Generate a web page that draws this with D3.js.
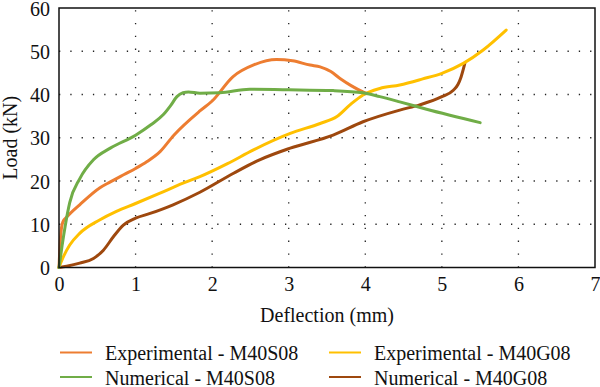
<!DOCTYPE html>
<html><head><meta charset="utf-8">
<script src="https://cdn.jsdelivr.net/npm/d3@7"></script>
<style>body{margin:0;background:#fff}svg{display:block}svg text{font-family:"Times New Roman",serif !important;font-size:20px !important}</style>
</head><body><svg id="c" width="600" height="387"></svg>
<script>
const xTicks=[0,1,2,3,4,5,6,7];
const yTicks=[0,10,20,30,40,50,60];
const seriesNames=["Experimental - M40S08","Experimental - M40G08","Numerical - M40S08","Numerical - M40G08"];
const seriesColors=["#ED7D31","#FFC000","#70AD47","#9E480E"];
const expS_x=[0,0.02,0.05,0.12,0.27,0.53,0.67,0.85,1.0,1.15,1.32,1.5,1.84,2.0,2.27,2.55,2.84,3.05,3.28,3.41,3.55,3.67,3.82,3.97,4.02];
const expS_y=[0,7,10.5,12,14.5,18.4,19.8,21.5,22.9,24.5,26.8,30.6,36.2,38.5,44.1,46.9,48.1,47.8,46.8,46.4,45.3,43.7,42,40.6,40.2];
const expG_x=[0,0.05,0.14,0.27,0.53,0.75,1.0,1.32,1.62,1.84,2.2,2.54,3.02,3.41,3.63,3.8,3.97,4.19,4.45,4.75,5.0,5.28,5.54,5.84];
const expG_y=[0,2.2,5.2,7.9,11,13,14.8,17.2,19.5,21,24,27.2,31,33.3,34.9,37.6,39.9,41.4,42.2,43.6,44.9,47.2,50.3,54.9];
const numS_x=[0,0.04,0.08,0.14,0.27,0.45,0.67,1.0,1.2,1.36,1.46,1.54,1.62,1.69,1.84,2.1,2.49,3.0,3.58,3.97,4.19,4.45,4.8,5.5];
const numS_y=[0,5,9.5,15,20.5,24.9,27.6,30.6,33,35.3,37.5,39.5,40.4,40.6,40.3,40.4,41.2,41.1,40.9,40.4,39.5,38.3,36.6,33.5];
const numG_x=[0,0.1,0.27,0.45,0.58,0.71,0.84,1.0,1.19,1.49,1.84,2.28,2.62,3.02,3.58,3.97,4.45,4.71,5.0,5.15,5.21,5.25,5.3];
const numG_y=[0,0.3,1,2.1,4,7.1,9.8,11.4,12.5,14.5,17.4,21.8,24.9,27.6,30.6,33.7,36.4,37.6,39.5,41,42.3,44,47.2];
const data=[[expS_x,expS_y],[expG_x,expG_y],[numS_x,numS_y],[numG_x,numG_y]];

const svg=d3.select("#c");
const L=59,R=595,T=8,B=267.5;
const x=d3.scaleLinear().domain([0,7]).range([L,R]);
const y=d3.scaleLinear().domain([0,60]).range([B,T]);

// grid
const g=svg.append("g");
g.selectAll(".vg").data(xTicks.slice(1,-1)).enter().append("line")
 .attr("x1",d=>x(d)).attr("x2",d=>x(d)).attr("y1",B).attr("y2",T)
 .attr("stroke","#222").attr("stroke-width",1.3).attr("stroke-dasharray","1.3,11.5");
g.selectAll(".hg").data(yTicks.slice(1,-1)).enter().append("line")
 .attr("x1",L).attr("x2",R).attr("y1",d=>y(d)).attr("y2",d=>y(d))
 .attr("stroke","#222").attr("stroke-width",1.3).attr("stroke-dasharray","1.3,10");

// curves
const line=d3.line().x(d=>x(d[0])).y(d=>y(d[1])).curve(d3.curveMonotoneX);
[3,1,0,2].forEach(i=>{
  const pts=data[i][0].map((v,k)=>[v,data[i][1][k]]);
  svg.append("path").attr("d",line(pts)).attr("fill","none")
   .attr("stroke",seriesColors[i]).attr("stroke-width",3).attr("stroke-linejoin","round").attr("stroke-linecap","round");
});

// frame
svg.append("rect").attr("x",L).attr("y",T).attr("width",R-L).attr("height",B-T)
 .attr("fill","none").attr("stroke","#111").attr("stroke-width",1.5);

// axes
const xa=svg.append("g").attr("transform",`translate(0,${B})`)
 .call(d3.axisBottom(x).tickValues(xTicks).tickSize(0).tickPadding(9).tickFormat(d3.format("d")));
const ya=svg.append("g").attr("transform",`translate(${L},0)`)
 .call(d3.axisLeft(y).tickValues(yTicks).tickSize(0).tickPadding(9).tickFormat(d3.format("d")));
[xa,ya].forEach(a=>{a.attr("font-family","serif").attr("font-size",20);a.select(".domain").remove();
  a.selectAll("text").attr("fill","#111");});
ya.selectAll("text").attr("dy","0.36em");

svg.append("text").attr("x",(L+R)/2).attr("y",321.5).attr("text-anchor","middle")
 .attr("font-family","serif").attr("font-size",20).attr("fill","#111").text("Deflection (mm)");
svg.append("text").attr("transform",`translate(17,${(T+B)/2}) rotate(-90)`).attr("text-anchor","middle")
 .attr("font-family","serif").attr("font-size",20).attr("fill","#111").text("Load (kN)");

// legend
const legPos=[[60,352.5],[329,352.5],[60,377],[329,377]];
seriesNames.forEach((n,i)=>{
  const [lx,ly]=legPos[i];
  svg.append("line").attr("x1",lx).attr("x2",lx+32).attr("y1",ly).attr("y2",ly).attr("stroke",seriesColors[i]).attr("stroke-width",2);
  svg.append("text").attr("x",lx+45).attr("y",ly+7.5).attr("font-family","serif").attr("font-size",20).attr("fill","#111").text(n);
});
</script></body></html>
